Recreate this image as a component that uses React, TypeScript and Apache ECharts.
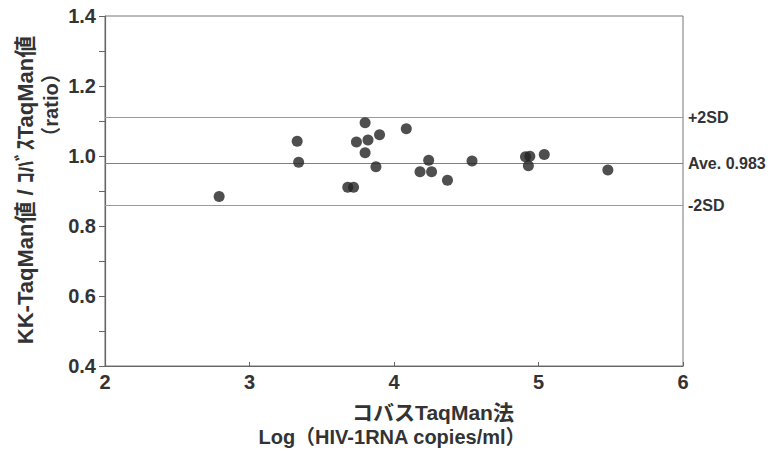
import React, { useEffect, useRef } from "react";
import * as echarts from "echarts";

const xValues = [2.79, 3.33, 3.34, 3.68, 3.72, 3.80, 3.74, 3.82, 3.90, 3.80, 3.875, 4.085, 4.24, 4.18, 4.26, 4.37, 4.54, 4.91, 4.94, 4.93, 5.04, 5.48];
const yValues = [0.884, 1.042, 0.982, 0.911, 0.911, 1.095, 1.040, 1.046, 1.061, 1.009, 0.969, 1.078, 0.988, 0.955, 0.955, 0.931, 0.986, 0.998, 0.999, 0.972, 1.004, 0.960];
const refNames = ["+2SD", "Ave. 0.983", "-2SD"];
const refValues = [1.114, 0.985, 0.863];
const refColors = ["#9a9a9a", "#808080", "#9a9a9a"];
const yTitleLines = ["KK-TaqMan値 / ｺﾊﾞｽTaqMan値", "（ratio）"];
const xTitleLines = ["コバスTaqMan法", "Log（HIV-1RNA copies/ml）"];

const FONT = "'Liberation Sans', Arial, 'Noto Sans CJK JP', sans-serif";

export default function App() {
  const ref = useRef<HTMLDivElement>(null);
  useEffect(() => {
    if (!ref.current) return;
    const chart = echarts.init(ref.current, undefined, { renderer: "svg" });
    const points = xValues.map((x, i) => [x, yValues[i]]);
    const titleStyle = {
      fontWeight: "bold",
      fill: "#333",
      fontFamily: FONT,
      align: "center",
      verticalAlign: "middle",
    };
    chart.setOption({
      animation: false,
      backgroundColor: "#ffffff",
      textStyle: { fontFamily: FONT },
      grid: { left: 105, right: 92, top: 16, bottom: 86, show: true, borderColor: "#777", borderWidth: 1 },
      xAxis: {
        type: "value",
        min: 2,
        max: 6,
        interval: 1,
        axisLine: { show: true, lineStyle: { color: "#666", width: 1.2 } },
        axisTick: { show: true, inside: true, length: 4, lineStyle: { color: "#666" } },
        axisLabel: { fontSize: 20, fontWeight: "bold", color: "#333", fontFamily: FONT, margin: 6 },
        splitLine: { show: false },
      },
      yAxis: {
        type: "value",
        min: 0.4,
        max: 1.4,
        interval: 0.2,
        axisLine: { show: true, lineStyle: { color: "#666", width: 1.2 } },
        axisTick: { show: true, inside: false, length: 6, lineStyle: { color: "#666" } },
        minorTick: { show: true, splitNumber: 2, length: 6, lineStyle: { color: "#666" } },
        axisLabel: {
          fontSize: 20,
          fontWeight: "bold",
          color: "#333",
          fontFamily: FONT,
          margin: 9,
          formatter: (v: number) => v.toFixed(1),
        },
        splitLine: { show: false },
      },
      series: [
        {
          type: "scatter",
          data: points,
          symbol: "circle",
          symbolSize: 11,
          itemStyle: { color: "#232323" },
          z: 5,
          markLine: {
            silent: true,
            symbol: "none",
            data: refValues.map((v, i) => ({
              yAxis: v,
              name: refNames[i],
              lineStyle: { color: refColors[i], width: 1.2, type: "solid" },
              label: {
                show: true,
                position: "end",
                distance: 5,
                formatter: refNames[i],
                fontSize: 16,
                fontWeight: "bold",
                color: "#333",
                fontFamily: FONT,
              },
            })),
          },
        },
      ],
      graphic: [
        {
          type: "text",
          x: 25,
          y: 190,
          rotation: Math.PI / 2,
          style: { ...titleStyle, text: yTitleLines[0], fontSize: 22 },
        },
        {
          type: "text",
          x: 51,
          y: 105,
          rotation: Math.PI / 2,
          style: { ...titleStyle, text: yTitleLines[1], fontSize: 20 },
        },
        {
          type: "text",
          x: 433,
          y: 412,
          style: { ...titleStyle, text: xTitleLines[0], fontSize: 21 },
        },
        {
          type: "text",
          x: 392,
          y: 437,
          style: { ...titleStyle, text: xTitleLines[1], fontSize: 20 },
        },
      ],
    });
    return () => chart.dispose();
  }, []);
  return (
    <div
      ref={ref}
      style={{ position: "fixed", left: 0, top: 0, width: 775, height: 452, background: "#fff" }}
    />
  );
}
